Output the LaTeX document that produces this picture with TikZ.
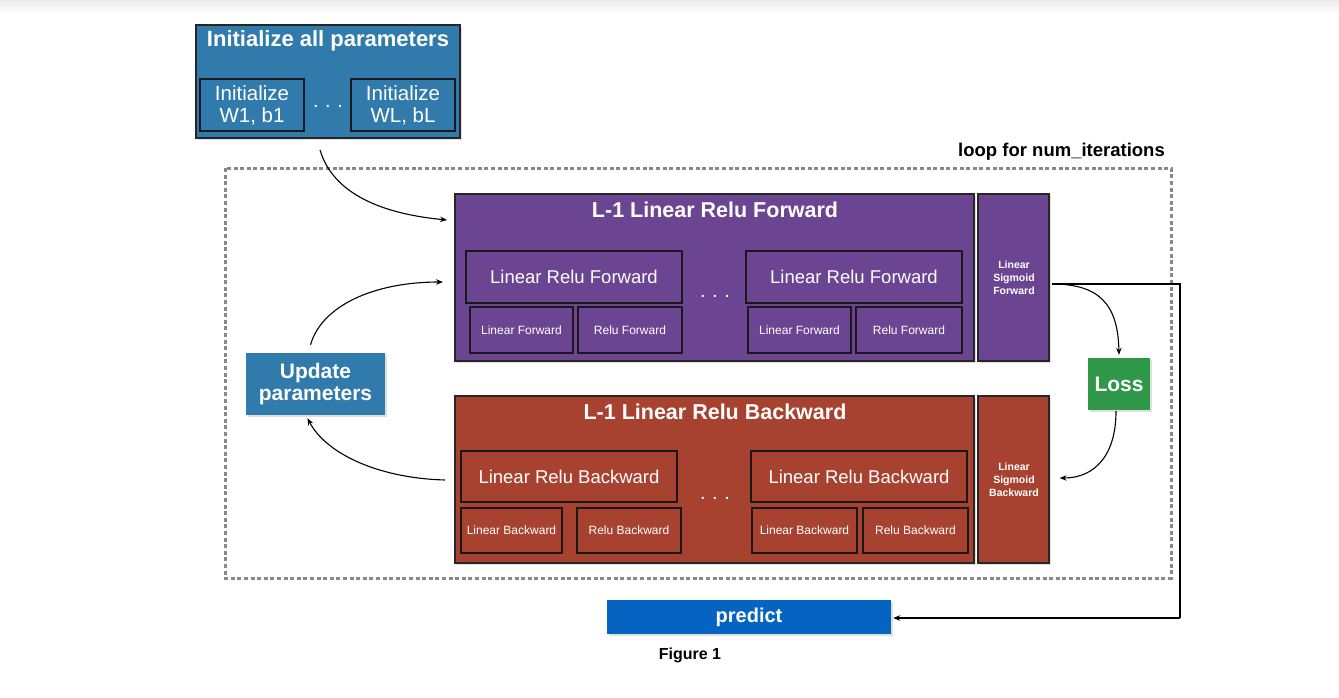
\documentclass[tikz,border=0pt]{standalone}
\usepackage{fontspec}
\setmainfont{Liberation Sans}
\usetikzlibrary{arrows.meta,shadows}
\definecolor{initblue}{RGB}{48,122,172}
\definecolor{fwdpurple}{RGB}{107,69,146}
\definecolor{bwdred}{RGB}{168,66,48}
\definecolor{lossgreen}{RGB}{47,152,72}
\definecolor{predblue}{RGB}{5,99,193}
\definecolor{loopgray}{RGB}{135,135,140}
\tikzset{
  panel/.style={draw=black!85, line width=1.2pt, inner sep=0pt,
    drop shadow={opacity=0.25, shadow xshift=1.5pt, shadow yshift=-1.5pt}},
  subbox/.style={draw=black!90, line width=1.6pt, inner sep=0pt, text=white,
    align=center},
  plain/.style={inner sep=0pt, text=white, align=center},
  tag/.style={inner sep=0pt, text=white, align=center,
    drop shadow={opacity=0.25, shadow xshift=1.5pt, shadow yshift=-1.5pt}},
  conn/.style={line width=1.1pt, -{Stealth[length=7pt,width=5.5pt]}},
  wire/.style={line width=1.1pt},
}
\begin{document}
\begin{tikzpicture}[x=1pt,y=-1pt]
\useasboundingbox (0,0) rectangle (1339,697);
% faint band along the top edge
\shade[top color=black!8, bottom color=white] (0,0) rectangle (1339,14);

% parameter initialisation
\node[panel, fill=initblue, minimum width=264pt, minimum height=113pt] (init) at (328,81.5) {};
\node[plain, font=\bfseries\fontsize{22}{24}\selectfont] (inittitle) at (328,41) {Initialize all parameters};
\node[subbox, minimum width=104pt, minimum height=52pt, font=\fontsize{20.5}{22}\selectfont] (initA) at (252,105) {Initialize\\W1, b1};
\node[subbox, minimum width=104pt, minimum height=52pt, font=\fontsize{20.5}{22}\selectfont] (initL) at (403,105) {Initialize\\WL, bL};
\node[plain, font=\fontsize{20}{22}\selectfont] (initdots) at (328,106) {.\,\,.\,\,.};

% training loop frame
\draw[loopgray, line width=3pt, dash pattern=on 4pt off 2.6pt] (225,168) rectangle (1171,578);
\node[inner sep=0pt, anchor=east, font=\bfseries\fontsize{18.5}{20}\selectfont] (looplabel) at (1165,152) {loop for num\_iterations};

% forward pass
\node[panel, fill=fwdpurple, minimum width=519pt, minimum height=167pt] (fwd) at (714.5,277.5) {};
\node[plain, font=\bfseries\fontsize{21.5}{24}\selectfont] (fwdtitle) at (715,210) {L-1 Linear Relu Forward};
\node[subbox, minimum width=216pt, minimum height=52pt, font=\fontsize{18.5}{22}\selectfont] (fA) at (574,277) {Linear Relu Forward};
\node[subbox, minimum width=216pt, minimum height=52pt, font=\fontsize{18.5}{22}\selectfont] (fL) at (854,277) {Linear Relu Forward};
\node[subbox, minimum width=103pt, minimum height=46pt, font=\fontsize{12}{14}\selectfont] (fA1) at (521.5,330) {Linear Forward};
\node[subbox, minimum width=104pt, minimum height=46pt, font=\fontsize{12}{14}\selectfont] (fA2) at (630,330) {Relu Forward};
\node[subbox, minimum width=103pt, minimum height=46pt, font=\fontsize{12}{14}\selectfont] (fL1) at (799.5,330) {Linear Forward};
\node[subbox, minimum width=106pt, minimum height=46pt, font=\fontsize{12}{14}\selectfont] (fL2) at (909,330) {Relu Forward};
\node[plain, font=\fontsize{20}{22}\selectfont] (fdots) at (715,296) {.\,\,.\,\,.};
\node[panel, fill=fwdpurple, minimum width=71pt, minimum height=167pt] (sigf) at (1013.5,277.5) {};
\node[plain, font=\bfseries\fontsize{10.5}{13}\selectfont] (sigftext) at (1014,278) {Linear\\Sigmoid\\Forward};

% backward pass
\node[panel, fill=bwdred, minimum width=519pt, minimum height=167pt] (bwd) at (714.5,479.5) {};
\node[plain, font=\bfseries\fontsize{21.5}{24}\selectfont] (bwdtitle) at (715,412) {L-1 Linear Relu Backward};
\node[subbox, minimum width=216pt, minimum height=51pt, font=\fontsize{18.5}{22}\selectfont] (bA) at (569,476.5) {Linear Relu Backward};
\node[subbox, minimum width=216pt, minimum height=51pt, font=\fontsize{18.5}{22}\selectfont] (bL) at (859,476.5) {Linear Relu Backward};
\node[subbox, minimum width=101pt, minimum height=45pt, font=\fontsize{12}{14}\selectfont] (bA1) at (511.5,530.5) {Linear Backward};
\node[subbox, minimum width=104pt, minimum height=45pt, font=\fontsize{12}{14}\selectfont] (bA2) at (629,530.5) {Relu Backward};
\node[subbox, minimum width=105pt, minimum height=45pt, font=\fontsize{12}{14}\selectfont] (bL1) at (804.5,530.5) {Linear Backward};
\node[subbox, minimum width=105pt, minimum height=45pt, font=\fontsize{12}{14}\selectfont] (bL2) at (915.5,530.5) {Relu Backward};
\node[plain, font=\fontsize{20}{22}\selectfont] (bdots) at (715,498) {.\,\,.\,\,.};
\node[panel, fill=bwdred, minimum width=71pt, minimum height=167pt] (sigb) at (1013.5,479.5) {};
\node[plain, font=\bfseries\fontsize{10.5}{13}\selectfont] (sigbtext) at (1014,480) {Linear\\Sigmoid\\Backward};

% loss, update and predict
\node[tag, fill=lossgreen, minimum width=62pt, minimum height=52pt, font=\bfseries\fontsize{21}{24}\selectfont] (loss) at (1119,384) {Loss};
\node[tag, fill=initblue, minimum width=139pt, minimum height=62pt, font=\bfseries\fontsize{21}{22}\selectfont] (update) at (315.5,384) {Update\\parameters};
\node[tag, fill=predblue, minimum width=284pt, minimum height=34pt, font=\bfseries\fontsize{20}{24}\selectfont] (predict) at (749,617) {predict};
\node[inner sep=0pt, font=\bfseries\fontsize{16}{18}\selectfont] (caption) at (690,655) {Figure 1};

% connectors
\coordinate (initout) at (320,150);
\coordinate (fwdin) at (447,220);
\coordinate (updin) at (443,282);
\coordinate (bwdout) at (445,480);
\coordinate (sigfout) at (1052,284);
\coordinate (turnA) at (1180,284);
\coordinate (turnB) at (1180,618);

\draw[conn] (initout) .. controls (335,200) and (395,215) .. (fwdin);
\draw[conn] ([xshift=-5pt,yshift=8pt]update.north) .. controls (322,305) and (375,282) .. (updin);
\draw[conn] (bwdout) .. controls (375,478) and (325,452) .. ([xshift=-8pt,yshift=-3pt]update.south);
\draw[conn] (sigfout) .. controls (1100,284) and (1118,305) .. ([yshift=3pt]loss.north);
\draw[wire] (sigfout) -- (turnA) -- (turnB);
\draw[conn] (turnB) -- ([xshift=2pt]predict.east |- turnB);
\draw[conn] ([xshift=-3pt,yshift=-1pt]loss.south) .. controls (1116,455) and (1095,478) .. ([xshift=10pt]sigb.east |- 0,478);
\end{tikzpicture}
\end{document}
